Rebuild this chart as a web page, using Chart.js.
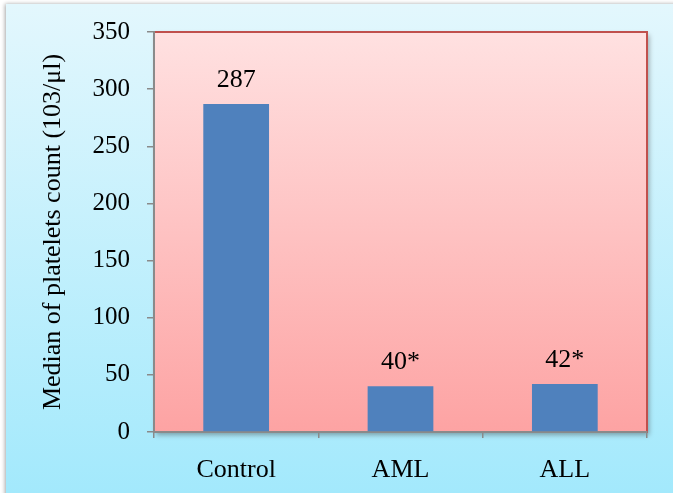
<!DOCTYPE html>
<html>
<head>
<meta charset="utf-8">
<script src="https://cdn.jsdelivr.net/npm/chart.js@4"></script>
<style>
  html, body { margin: 0; padding: 0; background: #ffffff; }
  #wrap { width: 673px; height: 493px; }
</style>
</head>
<body>
<div id="wrap"><canvas id="chart" width="673" height="493"></canvas></div>
<script>
// Median platelet counts per group
const categories = ['Control', 'AML', 'ALL'];
const medianValues = [287, 40, 42];
const valueLabels = ['287', '40*', '42*'];
const yTicks = [0, 50, 100, 150, 200, 250, 300, 350];
const yTitle = 'Median of platelets count (103/\u03bcl)';

const FONT = '"Liberation Serif", "Times New Roman", serif';
const AXIS_GREY = '#8a8a8a';

// Panel background, plot-area gradient with drop shadow and red frame
const backdrop = {
  id: 'backdrop',
  beforeDraw(chart) {
    const { ctx, chartArea: a, width, height } = chart;
    ctx.save();
    // outer panel
    ctx.shadowColor = 'rgba(0,0,0,0.35)';
    ctx.shadowBlur = 4;
    ctx.shadowOffsetX = -1;
    const g = ctx.createLinearGradient(0, 4, 0, height);
    g.addColorStop(0, '#e3f7fd');
    g.addColorStop(1, '#a3e9fc');
    ctx.fillStyle = g;
    ctx.fillRect(6, 4, width, height);
    ctx.restore();

    ctx.save();
    ctx.shadowColor = 'rgba(60,60,60,0.45)';
    ctx.shadowBlur = 5;
    ctx.shadowOffsetX = 2;
    ctx.shadowOffsetY = 3;
    const pg = ctx.createLinearGradient(0, a.top, 0, a.bottom);
    pg.addColorStop(0, '#ffe1e1');
    pg.addColorStop(1, '#fda3a3');
    ctx.fillStyle = pg;
    ctx.fillRect(a.left, a.top, a.right - a.left, a.bottom - a.top);
    ctx.restore();

    ctx.save();
    ctx.strokeStyle = '#c0504d';
    ctx.lineWidth = 2;
    ctx.strokeRect(a.left, a.top, a.right - a.left, a.bottom - a.top);
    ctx.restore();
  }
};

// Value text above each bar
const barValues = {
  id: 'barValues',
  afterDatasetsDraw(chart) {
    const { ctx } = chart;
    const meta = chart.getDatasetMeta(0);
    ctx.save();
    ctx.font = '26px ' + FONT;
    ctx.fillStyle = '#000000';
    ctx.textAlign = 'center';
    ctx.textBaseline = 'alphabetic';
    meta.data.forEach((bar, i) => {
      ctx.fillText(valueLabels[i], bar.x, bar.y - 17);
    });
    ctx.restore();
  }
};

new Chart(document.getElementById('chart'), {
  type: 'bar',
  data: {
    labels: categories,
    datasets: [{
      data: medianValues,
      backgroundColor: '#4f81bd',
      borderWidth: 0,
      barPercentage: 0.4,
      categoryPercentage: 1.0
    }]
  },
  options: {
    responsive: false,
    devicePixelRatio: 1,
    animation: false,
    layout: { padding: { left: 0, top: 31, right: 26, bottom: 0 } },
    plugins: {
      legend: { display: false },
      tooltip: { enabled: false }
    },
    scales: {
      x: {
        afterFit(scale) { scale.height = 61; },
        grid: {
          display: true,
          offset: true,
          drawOnChartArea: false,
          drawTicks: true,
          tickLength: 6,
          color: AXIS_GREY,
          lineWidth: 1.5
        },
        border: { display: true, color: AXIS_GREY, width: 2 },
        ticks: {
          color: '#000000',
          padding: 17,
          font: { family: FONT, size: 26 },
          maxRotation: 0
        }
      },
      y: {
        min: 0,
        max: 350,
        afterFit(scale) { scale.width = 154; },
        afterBuildTicks(scale) { scale.ticks = yTicks.map(v => ({ value: v })); },
        grid: {
          display: true,
          drawOnChartArea: false,
          drawTicks: true,
          tickLength: 7,
          color: AXIS_GREY,
          lineWidth: 1.5
        },
        border: { display: true, color: AXIS_GREY, width: 2 },
        ticks: {
          color: '#000000',
          padding: 17,
          font: { family: FONT, size: 25 }
        },
        title: {
          display: true,
          text: yTitle,
          color: '#000000',
          font: { family: FONT, size: 26 },
          padding: { top: 38, bottom: 0 }
        }
      }
    }
  },
  plugins: [backdrop, barValues]
});
</script>
</body>
</html>
